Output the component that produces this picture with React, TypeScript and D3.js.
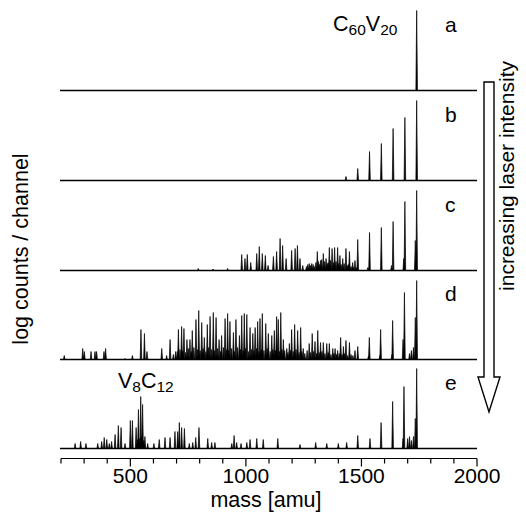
import React from "react";
import * as d3 from "d3";

// ---- data (mass in amu, intensity in arbitrary log units, 80 = full scale) ----
const panelLabels = ["a", "b", "c", "d", "e"];

const massA = [1739];
const intA = [80];

const massB = [1433, 1484, 1535, 1586, 1637, 1688, 1739];
const intB = [4, 12, 29, 37, 52, 63, 80];

const massC = [794, 858, 921,
  982, 996, 1006, 1021, 1047, 1058, 1071, 1084, 1096, 1119, 1133, 1148, 1159, 1174,
  1198, 1213, 1223, 1234, 1246, 1274, 1285, 1309, 1323, 1335, 1347, 1361, 1373, 1384,
  1397, 1407, 1419, 1433, 1448, 1462, 1472,
  1262, 1268, 1280, 1291, 1296, 1303, 1314, 1318, 1328, 1341, 1352, 1356, 1366, 1378,
  1390, 1402, 1412, 1425, 1438, 1443, 1455, 1466, 1478, 1528, 1630, 1683, 1733,
  1484, 1535, 1586, 1637, 1688, 1739];
const intC = [2, 1.5, 2,
  16, 12, 16, 8, 17, 24, 17, 15, 5, 14, 19, 32, 25, 12,
  20, 22, 25, 12, 5, 7, 7, 19, 10, 17, 12, 23, 22, 23,
  23, 15, 12, 22, 19, 8, 10,
  4, 6, 5, 6, 4, 8, 9, 6, 11, 9, 7, 8, 10, 8,
  9, 7, 6, 7, 5, 6, 4, 3, 3, 3, 5, 12, 30,
  31, 38, 43, 49, 69, 80];

const massD = [214, 294, 301, 330, 347, 354, 386, 393, 477, 509, 546, 561, 572,
  636, 657, 672, 686, 696, 708, 722, 732, 745, 758, 768, 784, 796, 809, 820, 833,
  845, 859, 871, 884, 895, 910, 921, 931, 946, 957, 972, 982, 993, 1004, 1018, 1030,
  1040, 1051, 1061, 1071, 1086, 1097, 1112, 1123, 1133, 1140, 1151, 1162, 1177, 1188,
  1198, 1211, 1224, 1237, 1248, 1274, 1287, 1299, 1311, 1323, 1335, 1350, 1361, 1376,
  1386, 1397, 1410, 1422, 1433, 1448, 1472, 1484,
  703, 715, 727, 739, 751, 763, 775, 790, 802, 815, 827, 839, 852, 865, 877, 890,
  903, 915, 926, 938, 951, 964, 977, 988, 998, 1012, 1024, 1035, 1046, 1057, 1066,
  1078, 1092, 1105, 1117, 1128, 1145, 1156, 1168, 1182, 1193, 1205, 1217, 1230,
  1242, 1255, 1265, 1280, 1293, 1305, 1317, 1329, 1342, 1356, 1368, 1381, 1392,
  1404, 1416, 1428, 1440, 1455, 1463, 1530, 1580, 1632, 1680, 1708, 1716, 1725, 1733,
  1534, 1583, 1635, 1686, 1739];
const intD = [4, 11, 8, 8, 8, 8, 8, 11, 1, 4, 30, 26, 8,
  11, 4, 20, 5, 8, 30, 33, 31, 20, 20, 29, 40, 49, 37, 22, 35,
  43, 47, 42, 20, 24, 41, 46, 38, 27, 40, 24, 44, 46, 45, 32, 26,
  32, 38, 41, 46, 36, 26, 24, 29, 43, 40, 47, 20, 11, 16,
  30, 35, 29, 32, 11, 16, 26, 18, 29, 17, 17, 16, 16, 11,
  11, 9, 22, 13, 19, 17, 9, 13,
  8, 10, 9, 7, 11, 8, 12, 10, 9, 11, 8, 12, 10, 9, 11, 8,
  12, 10, 9, 11, 8, 12, 10, 9, 11, 8, 10, 9, 11, 8, 10,
  9, 11, 8, 10, 9, 8, 10, 9, 7, 9, 8, 10, 7,
  8, 6, 9, 7, 8, 6, 7, 8, 6, 7, 5, 6, 5,
  6, 5, 6, 4, 5, 4, 3, 4, 5, 20, 6, 9, 12, 42,
  22, 30, 39, 67, 79];

const massE = [261, 285, 308, 359, 376, 387, 398, 409, 419, 434, 448, 460, 477,
  500, 509, 525, 535, 545, 553, 563, 575, 540, 549, 558, 530, 602, 625, 650, 672, 693, 705,
  712, 722, 734, 755, 770, 783, 797, 835, 852, 866, 939, 949, 960, 979, 1004, 1018,
  1047, 1075, 1138, 1234, 1302, 1350, 1400, 1436, 1484, 1537,
  1680, 1700, 1708, 1716, 1725, 1733,
  1585, 1635, 1684, 1739];
const intE = [5, 7, 5, 5, 7, 11, 9, 5, 7, 14, 23, 21, 5,
  28, 28, 21, 39, 52, 44, 12, 5, 10, 12, 8, 9, 5, 9, 11, 11, 17, 17,
  26, 21, 20, 5, 6, 11, 21, 10, 6, 6, 5, 13, 6, 5, 6, 9,
  10, 9, 10, 4, 6, 5, 5, 6, 13, 10,
  10, 10, 12, 8, 12, 30,
  26, 47, 62, 80];

const panelMasses = [massA, massB, massC, massD, massE];
const panelInts = [intA, intB, intC, intD, intE];

const majorTicks = [500, 1000, 1500, 2000];
const minorTicks = d3.range(200, 2001, 100);

const FONT = "'Liberation Sans', Arial, Helvetica, sans-serif";

export default function App() {
  const W = 526, H = 524;
  const x = d3.scaleLinear().domain([200, 2000]).range([61, 477]);
  const baselines = [90.5, 180.5, 270.5, 359.5, 448.5];
  const axisY = 458.5;

  return (
    <svg width={W} height={H} style={{ position: "absolute", left: 0, top: 0, background: "#fff" }}
      fontFamily={FONT}>
      <rect width={W} height={H} fill="#fff" />
      {panelMasses.map((ms, pi) => {
        const base = baselines[pi];
        const y = d3.scaleLinear().domain([0, 80]).range([base, base - 80]);
        const path = d3.path();
        ms.forEach((m, i) => {
          const px = x(m);
          const top = y(panelInts[pi][i]);
          path.moveTo(px - 0.8, base);
          path.lineTo(px, top);
          path.lineTo(px + 0.8, base);
          path.closePath();
        });
        return (
          <g key={pi}>
            <path d={path.toString()} fill="#000" stroke="#000" strokeWidth={0.7} strokeLinejoin="round" />
            <line x1={x(200) - 1} x2={x(2000)} y1={base} y2={base} stroke="#000" strokeWidth={1.6} />
            <text x={445} y={base - 59} fontSize={21}>{panelLabels[pi]}</text>
          </g>
        );
      })}

      {/* peak annotations */}
      <text x={333} y={31} fontSize={21.5}>
        C<tspan fontSize={15.5} dy={4}>60</tspan><tspan dy={-4}>V</tspan><tspan fontSize={15.5} dy={4}>20</tspan>
      </text>
      <text x={118} y={388} fontSize={21.5}>
        V<tspan fontSize={15.5} dy={4}>8</tspan><tspan dy={-4}>C</tspan><tspan fontSize={15.5} dy={4}>12</tspan>
      </text>

      {/* x axis */}
      <line x1={x(200)} x2={x(2000)} y1={axisY} y2={axisY} stroke="#000" strokeWidth={1.2} />
      {minorTicks.map(t => (
        <line key={"m" + t} x1={x(t)} x2={x(t)} y1={axisY} y2={axisY + (majorTicks.includes(t) ? 8 : 5)}
          stroke="#000" strokeWidth={1.2} />
      ))}
      {majorTicks.map(t => (
        <text key={"l" + t} x={x(t)} y={483} fontSize={21} textAnchor="middle">{t}</text>
      ))}
      <text x={266} y={507} fontSize={21.5} textAnchor="middle">mass [amu]</text>

      {/* y label */}
      <text transform="translate(28,249) rotate(-90)" fontSize={21.5} textAnchor="middle">log counts / channel</text>

      {/* arrow */}
      <path d="M484,82 L494,82 L494,377 L500,377 L489,412 L478,377 L484,377 Z"
        fill="none" stroke="#000" strokeWidth={1.4} strokeLinejoin="miter" />
      <text transform="translate(514,176) rotate(-90)" fontSize={21} textAnchor="middle">increasing laser intensity</text>
    </svg>
  );
}
